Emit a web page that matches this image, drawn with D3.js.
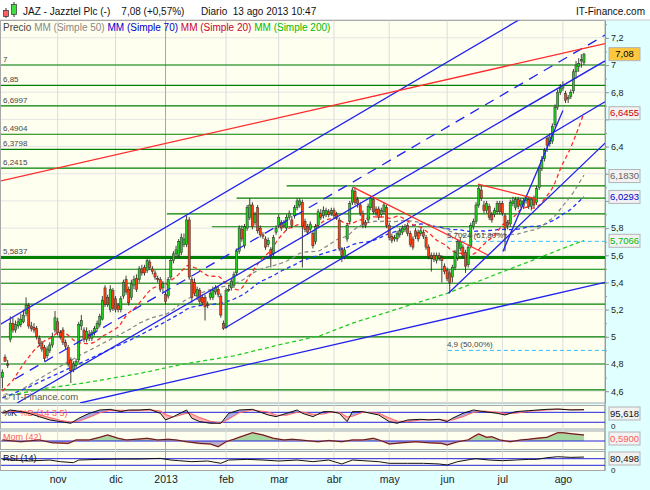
<!DOCTYPE html>
<html>
<head>
<meta charset="utf-8">
<script src="https://cdnjs.cloudflare.com/ajax/libs/d3/7.8.5/d3.min.js"></script>
<style>
  body { margin: 0; background: #e0ffff; }
  text { font-family: "Liberation Sans", Arial, sans-serif; }
</style>
</head>
<body>
<div id="chart"></div>
<script>
// Daily candles, index 0 = early Oct 2012, last = 13 ago 2013
const opens = [
  4.70,4.85,4.80,4.98,5.10,5.05,5.08,5.09,5.11,5.17,
  5.23,5.08,5.07,5.06,4.99,4.95,4.92,4.86,4.90,4.94,
  5.05,5.11,5.03,5.05,4.96,4.92,4.83,4.76,4.79,4.83,
  5.08,5.05,4.98,5.02,4.99,5.03,5.06,5.09,5.13,5.36,
  5.29,5.20,5.34,5.28,5.23,5.20,5.30,5.42,5.35,5.29,
  5.38,5.43,5.42,5.50,5.51,5.49,5.55,5.50,5.47,5.43,
  5.42,5.36,5.31,5.30,5.44,5.56,5.61,5.60,5.62,5.68,
  5.68,5.86,5.42,5.40,5.30,5.34,5.29,5.29,5.24,5.29,
  5.29,5.33,5.35,5.30,5.10,5.07,5.35,5.36,5.38,5.47,
  5.63,5.79,5.67,5.80,5.88,5.97,5.84,5.95,5.80,5.75,
  5.72,5.68,5.64,5.61,5.77,5.82,5.84,5.82,5.80,5.88,
  5.86,5.89,5.95,5.97,5.99,5.85,5.81,5.79,5.76,5.70,
  5.82,5.91,5.89,5.90,5.92,5.91,5.93,5.90,5.86,5.64,
  5.59,5.72,5.85,5.99,6.07,6.01,5.97,5.91,5.84,5.86,
  5.95,6.01,5.94,5.94,5.90,5.92,5.95,5.82,5.74,5.72,
  5.72,5.75,5.77,5.79,5.82,5.76,5.72,5.78,5.77,5.76,
  5.77,5.73,5.66,5.60,5.60,5.56,5.60,5.58,5.52,5.49,
  5.47,5.44,5.51,5.58,5.65,5.66,5.62,5.53,5.67,5.81,
  5.85,5.97,6.08,5.97,5.93,5.96,5.90,5.90,5.92,5.98,
  5.98,5.89,5.84,5.83,5.98,5.95,6.01,5.97,5.96,6.00,
  6.01,5.96,6.02,5.99,6.10,6.24,6.31,6.46,6.42,6.44,
  6.56,6.69,6.80,6.83,6.79,6.75,6.77,6.81,6.95,6.99,
  7.03,7.02
];
const highs = [
  4.76,4.87,4.83,5.15,5.14,5.12,5.14,5.17,5.20,5.29,
  5.25,5.11,5.10,5.08,5.01,4.97,4.94,4.93,4.96,5.03,
  5.19,5.14,5.05,5.07,4.98,4.94,4.85,4.82,4.84,5.11,
  5.16,5.07,5.07,5.05,5.05,5.08,5.12,5.17,5.30,5.38,
  5.31,5.38,5.36,5.30,5.25,5.30,5.42,5.45,5.37,5.42,
  5.45,5.46,5.52,5.53,5.53,5.58,5.57,5.52,5.49,5.45,
  5.44,5.41,5.33,5.44,5.58,5.63,5.67,5.72,5.76,5.76,
  5.89,5.88,5.44,5.43,5.37,5.36,5.31,5.31,5.26,5.34,
  5.37,5.38,5.37,5.32,5.12,5.36,5.38,5.43,5.48,5.65,
  5.82,5.82,5.83,5.97,6.02,5.99,5.92,5.97,5.82,5.77,
  5.74,5.73,5.66,5.75,5.82,5.90,5.86,5.86,5.90,5.93,
  5.89,5.97,6.02,6.02,6.01,5.87,5.83,5.85,5.78,5.83,
  5.94,5.94,5.96,5.95,5.94,5.95,5.95,5.92,5.88,5.66,
  5.66,5.84,6.00,6.10,6.10,6.03,5.99,5.93,5.86,5.98,
  6.04,6.03,5.96,5.96,5.95,5.99,5.97,5.84,5.76,5.75,
  5.78,5.80,5.82,5.83,5.84,5.78,5.74,5.80,5.79,5.80,
  5.79,5.75,5.68,5.62,5.62,5.62,5.62,5.60,5.54,5.51,
  5.49,5.53,5.64,5.72,5.73,5.68,5.64,5.68,5.84,5.87,
  5.99,6.11,6.11,6.00,6.00,5.98,5.92,5.95,6.00,6.00,
  6.00,5.91,5.86,6.01,6.03,6.03,6.03,6.02,6.02,6.04,
  6.03,6.03,6.04,6.11,6.26,6.33,6.39,6.48,6.50,6.57,
  6.71,6.82,6.86,6.88,6.81,6.78,6.82,6.97,7.03,7.05,
  7.08,7.09
];
const lows = [
  4.62,4.82,4.77,4.96,5.03,5.03,5.06,5.07,5.10,5.15,
  5.06,5.04,5.03,4.98,4.93,4.89,4.82,4.84,4.88,4.92,
  5.03,5.01,4.98,4.94,4.91,4.78,4.66,4.74,4.77,4.81,
  5.05,4.96,4.96,4.97,4.97,5.01,5.04,5.07,5.12,5.22,
  5.22,5.18,5.19,5.18,5.18,5.18,5.28,5.31,5.23,5.27,
  5.35,5.33,5.40,5.45,5.45,5.47,5.49,5.46,5.42,5.40,
  5.33,5.33,5.24,5.28,5.42,5.54,5.59,5.58,5.60,5.66,
  5.66,5.42,5.25,5.30,5.27,5.24,5.23,5.12,5.21,5.27,
  5.27,5.31,5.29,5.14,5.05,5.06,5.33,5.34,5.36,5.45,
  5.61,5.70,5.65,5.78,5.86,5.79,5.82,5.76,5.73,5.72,
  5.64,5.66,5.51,5.59,5.75,5.80,5.78,5.80,5.78,5.86,
  5.80,5.87,5.93,5.95,5.51,5.77,5.75,5.77,5.65,5.68,
  5.80,5.86,5.87,5.88,5.88,5.89,5.87,5.86,5.63,5.55,
  5.57,5.70,5.83,5.97,5.97,5.95,5.89,5.80,5.80,5.84,
  5.93,5.90,5.89,5.86,5.88,5.90,5.80,5.71,5.69,5.70,
  5.70,5.73,5.75,5.77,5.74,5.66,5.64,5.72,5.70,5.74,
  5.72,5.64,5.57,5.48,5.55,5.54,5.56,5.40,5.46,5.41,
  5.32,5.40,5.49,5.56,5.63,5.58,5.47,5.51,5.65,5.79,
  5.83,5.95,6.00,5.91,5.91,5.86,5.84,5.88,5.90,5.90,
  5.89,5.63,5.79,5.81,5.96,5.93,5.94,5.95,5.94,5.98,
  5.94,5.93,5.95,5.97,6.08,6.22,6.29,6.36,6.40,6.42,
  6.54,6.67,6.78,6.81,6.72,6.72,6.75,6.79,6.90,6.95,
  6.98,7.00
];
const closes = [
  4.74,4.82,4.79,5.10,5.05,5.09,5.11,5.13,5.16,5.23,
  5.08,5.06,5.05,5.00,4.95,4.91,4.84,4.91,4.94,5.00,
  5.14,5.03,5.00,4.96,4.93,4.80,4.75,4.80,4.82,5.09,
  5.12,4.98,5.04,4.99,5.03,5.06,5.10,5.15,5.27,5.24,
  5.24,5.35,5.21,5.20,5.20,5.28,5.40,5.33,5.25,5.39,
  5.42,5.35,5.50,5.47,5.47,5.56,5.51,5.48,5.44,5.42,
  5.35,5.39,5.26,5.42,5.56,5.61,5.64,5.70,5.73,5.72,
  5.86,5.44,5.29,5.32,5.35,5.26,5.25,5.22,5.23,5.32,
  5.34,5.36,5.31,5.16,5.06,5.34,5.35,5.41,5.46,5.63,
  5.80,5.72,5.81,5.95,5.97,5.81,5.90,5.78,5.75,5.74,
  5.66,5.71,5.60,5.73,5.80,5.88,5.80,5.84,5.88,5.91,
  5.82,5.95,6.00,6.00,5.81,5.79,5.77,5.83,5.67,5.81,
  5.92,5.88,5.93,5.93,5.90,5.93,5.89,5.88,5.65,5.60,
  5.64,5.82,5.98,6.08,5.99,5.98,5.91,5.83,5.82,5.96,
  6.02,5.92,5.91,5.88,5.93,5.97,5.82,5.73,5.71,5.73,
  5.76,5.78,5.80,5.81,5.76,5.68,5.66,5.74,5.72,5.78,
  5.74,5.66,5.59,5.58,5.57,5.60,5.58,5.56,5.48,5.43,
  5.40,5.51,5.62,5.70,5.70,5.60,5.52,5.66,5.82,5.85,
  5.97,6.09,6.02,5.93,5.98,5.88,5.86,5.93,5.98,5.92,
  5.91,5.80,5.82,5.99,6.00,6.01,5.96,6.00,6.00,6.02,
  5.96,6.01,5.97,6.09,6.24,6.30,6.37,6.41,6.47,6.55,
  6.69,6.80,6.83,6.85,6.74,6.76,6.80,6.95,7.00,7.01,
  7.04,7.08
];

// Month ticks (candle index of first session of each month)
const monthIdx = [21, 43, 62, 85, 105, 126, 147, 169, 190, 213];
const monthLabels = ['nov', 'dic', '2013', 'feb', 'mar', 'abr', 'may', 'jun', 'jul', 'ago'];
const priceTicks = [4.6, 4.8, 5, 5.2, 5.4, 5.6, 5.8, 6, 6.2, 6.4, 6.6, 6.8, 7, 7.2];

// Moving averages before enough history is on screen
const sma20Early = [[0, 4.60], [4, 4.68], [8, 4.80], [12, 4.90], [16, 4.97]];
const sma50Early = [[8, 4.62], [20, 4.76], [30, 4.87], [40, 4.97]];
const sma70Early = [[0, 4.55], [10, 4.63], [20, 4.72], [30, 4.81], [40, 4.90], [50, 4.99], [60, 5.09]];
const sma200 = [[3, 4.57], [16, 4.62], [31, 4.66], [52, 4.73], [69, 4.80], [88, 4.86], [105, 4.94],
  [121, 5.01], [133, 5.10], [151, 5.21], [169, 5.32], [189, 5.47], [209, 5.62], [221, 5.71]];

// Support / resistance levels
const labeledLevels = [7, 6.85, 6.6997, 6.4904, 6.3798, 6.2415, 5.5837];
const labeledTexts = ['7', '6,85', '6,6997', '6,4904', '6,3798', '6,2415', '5,5837'];
const plainLevels = [5.497, 5.394, 5.241, 5.0, 4.8, 4.61];
const partialLevels = [6.11, 6.021, 5.904, 5.81];
const partialStart = [108, 89, 62.5, 79.6];
const fibLevels = [5.7024, 4.9];
const fibTexts = ['5,7024 (61,80%)', '4,9 (50,00%)'];
const fibStart = 169.3;

// Trend lines: [[index, price], [index, price]]
const blueLines = [
  [[-0.9, 5.09], [197, 7.34]],
  [[5.6, 4.513], [229, 7.03]],
  [[84.6, 5.065], [229, 6.73]],
  [[29.5, 4.513], [229, 5.40]],
  [[169.5, 5.32], [229, 6.425]],
  [[190.2, 5.628], [213, 6.666]]
];
const blueDashed = [[4.8, 4.69], [229, 7.22]];
const redLines = [
  [[-0.9, 6.146], [229, 7.157]],
  [[133.2, 6.102], [184.5, 5.602]],
  [[180.7, 6.124], [203.1, 6.014]]
];

// Right-side value labels
const boxValues = [7.08, 6.6455, 6.1830, 6.0293, 5.7066];
const boxTexts = ['7,08', '6,6455', '6,1830', '6,0293', '5,7066'];
const boxColors = ['#000000', '#cc0000', '#666666', '#0000cc', '#00bb00'];

// Stochastic %K %D (14 3 5)
const stochIdx = [0,3,7,10,14,18,22,26,29,33, 37,41,45,48,52,56,60,62,65,70,
  72,75,79,83,86,90,95,101,104,108, 112,114,118,122,125,128,131,133,137,143,
  147,150,154,159,162,166,169,171,175,179, 183,188,191,195,200,207,211,216,221];
const stochK = [74,94,84,74,54,34,24,14,44,74, 94,98,84,94,94,98,74,34,54,94,
  44,24,14,14,74,94,98,64,54,74, 94,74,54,84,84,74,24,84,84,64,
  24,14,34,38,34,38,24,44,74,94, 84,74,64,84,90,98,100,94,96];
const stochD = [80,85,88,80,66,48,32,22,26,50, 78,92,92,90,92,95,88,66,52,74,
  70,48,26,16,40,78,94,82,64,62, 80,82,68,70,82,80,52,56,80,74,
  46,28,24,34,36,36,32,34,54,80, 88,80,72,74,86,94,98,97,95];

// Momentum (42)
const momIdx = [0,7,14,19,25,28,33,37,40,44, 47,51,55,59,63,66,70,75,79,82,
  85,88,90,95,99,103,107,110,116,120, 124,129,133,137,141,145,147,152,157,162,
  167,169,173,177,179,181,184,186,189,193, 197,200,203,207,211,213,217,221];
const momVal = [0.10,-0.07,0.10,-0.17,-0.23,0.10,0.10,0.36,0.59,0.26,
  0.10,0.17,0.26,0.10,0.17,0.10,-0.07,-0.23,-0.29,-0.56,
  -0.07,0.17,0.36,0.81,0.59,0.26,0.10,0.17,0.03,-0.07,
  0.05,-0.07,0.10,0.10,0.26,-0.07,-0.29,-0.17,-0.07,-0.17,
  -0.23,-0.39,-0.07,0.10,0.42,0.69,0.36,0.42,0.10,-0.07,
  0.10,0.17,0.26,0.36,0.81,0.81,0.69,0.59];

// RSI (14)
const rsiIdx = [0,4,10,18,22,27,29,37,45,52, 60,64,67,72,78,83,86,93,99,105,
  112,118,124,129,133,137,143,147,154,160, 166,169,173,178,180,185,190,195,200,203,
  207,211,216,221];
const rsiVal = [66,62,56,62,52,46,62,66,68,68, 72,62,58,52,56,42,62,66,62,56,
  62,52,62,38,62,58,52,42,42,42, 38,32,52,66,70,62,58,62,66,66,
  76,82,78,80];

// Layout
const plotW = 605;
const main = { top: 20.5, bottom: 403 };
const stochP = { top: 405.5, bottom: 429 };
const momP = { top: 431, bottom: 449.5 };
const rsiP = { top: 451.5, bottom: 470.5 };

const x = d3.scaleLinear().domain([-0.91, 229]).range([0, plotW]);
const y = d3.scaleLinear().domain([4.513, 7.3275]).range([main.bottom, main.top]);
const sy = d3.scaleLinear().domain([0, 100]).range([425.6, 409]);
const my = d3.scaleLinear().domain([-1, 1]).range([451.2, 430.8]);
const ry = d3.scaleLinear().domain([0, 100]).range([470.25, 453.75]);

const fmtComma = d => String(+d.toFixed(1)).replace('.', ',');
// tick labels that sit under a value box are hidden, as in the original
const tickLabel = d => boxValues.some(v => Math.abs(y(v) - y(d)) < 9) ? '' : fmtComma(d);

const svg = d3.select('#chart').append('svg')
    .attr('width', 650).attr('height', 490).style('display', 'block');
const defs = svg.append('defs');

svg.append('rect').attr('width', 650).attr('height', 490).attr('fill', '#e0ffff');
svg.append('rect').attr('width', 650).attr('height', 20).attr('fill', '#ffffff');
svg.append('line').attr('x1', 0).attr('x2', 650).attr('y1', 20).attr('y2', 20)
    .attr('stroke', '#c8c8c8');

// Panel backgrounds and clip paths
[['main', main], ['stoch', stochP], ['mom', momP], ['rsi', rsiP]].forEach(([id, p]) => {
    svg.append('rect')
        .attr('x', 0.5).attr('y', p.top).attr('width', plotW - 0.5).attr('height', p.bottom - p.top)
        .attr('fill', '#fffff0').attr('stroke', '#a8a8a8');
    defs.append('clipPath').attr('id', 'clip-' + id)
        .append('rect').attr('x', 1).attr('y', p.top).attr('width', plotW - 1).attr('height', p.bottom - p.top);
});

// Grid
const grid = svg.append('g');
grid.selectAll('.hgrid').data(priceTicks).enter().append('line')
    .attr('x1', 1).attr('x2', plotW).attr('y1', d => y(d)).attr('y2', d => y(d))
    .attr('stroke', '#e4e4e4');
grid.selectAll('.vgrid').data(monthIdx).enter().append('line')
    .attr('x1', d => x(d)).attr('x2', d => x(d)).attr('y1', main.top).attr('y2', rsiP.bottom)
    .attr('stroke', (d, i) => monthLabels[i] === '2013' ? '#a8a8a8' : '#dcdcdc');

// Main panel
const g = svg.append('g').attr('clip-path', 'url(#clip-main)');
const seg = d3.line().x(d => x(d[0])).y(d => y(d[1]));

g.selectAll('.lvl').data(labeledLevels.concat(plainLevels)).enter().append('line')
    .attr('x1', 0).attr('x2', plotW).attr('y1', d => y(d)).attr('y2', d => y(d))
    .attr('stroke', '#008000').attr('stroke-width', d => d === 5.5837 ? 3 : 1.2);
g.selectAll('.plvl').data(partialLevels).enter().append('line')
    .attr('x1', (d, i) => x(partialStart[i])).attr('x2', plotW)
    .attr('y1', d => y(d)).attr('y2', d => y(d))
    .attr('stroke', '#008000').attr('stroke-width', 1.2);
g.selectAll('.fib').data(fibLevels).enter().append('line')
    .attr('x1', x(fibStart)).attr('x2', plotW).attr('y1', d => y(d)).attr('y2', d => y(d))
    .attr('stroke', '#33bbff').attr('stroke-dasharray', '4,3');

// Moving averages
function simpleMA(n, early) {
    const pts = early.slice();
    for (let i = n - 1; i < closes.length; i++) {
        pts.push([i, d3.mean(closes.slice(i - n + 1, i + 1))]);
    }
    return pts;
}
const maSeries = [
    { pts: sma200, color: '#22cc22' },
    { pts: simpleMA(70, sma70Early), color: '#2233ff' },
    { pts: simpleMA(50, sma50Early), color: '#8c8c8c' },
    { pts: simpleMA(20, sma20Early), color: '#ff2a2a' }
];
maSeries.forEach(s => {
    g.append('path').attr('d', seg(s.pts)).attr('fill', 'none')
        .attr('stroke', s.color).attr('stroke-width', 1.3).attr('stroke-dasharray', '4,3');
});

// Candles
const candles = closes.map((c, i) => ({ i, o: opens[i], h: highs[i], l: lows[i], c }));
const cg = g.append('g');
cg.selectAll('.wick').data(candles).enter().append('line')
    .attr('x1', d => x(d.i)).attr('x2', d => x(d.i))
    .attr('y1', d => y(d.h)).attr('y2', d => y(d.l))
    .attr('stroke', '#2a2a2a').attr('stroke-width', 0.9);
cg.selectAll('.body').data(candles).enter().append('rect')
    .attr('x', d => x(d.i) - 1.1).attr('width', 2.2)
    .attr('y', d => y(Math.max(d.o, d.c)))
    .attr('height', d => Math.max(1, Math.abs(y(d.o) - y(d.c))))
    .attr('fill', d => d.c >= d.o ? '#22cc22' : '#ff4010')
    .attr('stroke', '#2a2a2a').attr('stroke-width', 0.5);

// Trend lines
blueLines.forEach(l => g.append('path').attr('d', seg(l)).attr('stroke', '#2222ee')
    .attr('stroke-width', 1.3).attr('fill', 'none'));
g.append('path').attr('d', seg(blueDashed)).attr('stroke', '#2222ee').attr('stroke-width', 1.3)
    .attr('stroke-dasharray', '10,7').attr('fill', 'none');
redLines.forEach(l => g.append('path').attr('d', seg(l)).attr('stroke', '#ff2a2a')
    .attr('stroke-width', 1.3).attr('fill', 'none'));

// Level labels
g.selectAll('.lvlText').data(labeledLevels).enter().append('text')
    .attr('x', 3).attr('y', d => y(d) - 3)
    .attr('font-size', 8).attr('fill', '#444').text((d, i) => labeledTexts[i]);
g.selectAll('.fibText').data(fibLevels).enter().append('text')
    .attr('x', x(fibStart) - 1).attr('y', d => y(d) - 3)
    .attr('font-size', 8).attr('fill', '#444').text((d, i) => fibTexts[i]);
svg.append('text').attr('x', 3).attr('y', 400).attr('font-size', 9.5).attr('fill', '#555')
    .text('\u00a9 IT-Finance.com');

// Legend row
const legend = svg.append('text').attr('x', 3).attr('y', 30.5).attr('font-size', 10);
[['Precio ', '#444'], ['MM (Simple 50) ', '#888'], ['MM (Simple 70) ', '#0000cc'],
 ['MM (Simple 20) ', '#cc0033'], ['MM (Simple 200)', '#00bb00']]
    .forEach(([t, c]) => legend.append('tspan').attr('fill', c).text(t));

// Title bar
const icon = svg.append('g');
icon.append('line').attr('x1', 6).attr('x2', 6).attr('y1', 8).attr('y2', 18).attr('stroke', '#333');
icon.append('rect').attr('x', 3.5).attr('y', 10.5).attr('width', 5).attr('height', 6)
    .attr('fill', '#ff6060').attr('stroke', '#333').attr('stroke-width', 0.7);
icon.append('line').attr('x1', 14).attr('x2', 14).attr('y1', 2).attr('y2', 17).attr('stroke', '#333');
icon.append('rect').attr('x', 11.5).attr('y', 4.5).attr('width', 5).attr('height', 10)
    .attr('fill', '#40e040').attr('stroke', '#333').attr('stroke-width', 0.7);
svg.append('text').attr('x', 23).attr('y', 14.5).attr('font-size', 10).attr('fill', '#111')
    .attr('xml:space', 'preserve')
    .text('JAZ - Jazztel Plc (-)    7,08 (+0,57%)      Diario  13 ago 2013 10:47');
svg.append('text').attr('x', 645).attr('y', 14.5).attr('font-size', 10).attr('fill', '#111')
    .attr('text-anchor', 'end').text('IT-Finance.com');

// Price axis
const yAxis = d3.axisRight(y).tickValues(priceTicks).tickSize(4).tickSizeOuter(0).tickFormat(tickLabel);
const gy = svg.append('g').attr('transform', `translate(${plotW},0)`).call(yAxis);
gy.select('.domain').attr('stroke', '#999');
gy.selectAll('.tick line').attr('stroke', '#999');
gy.selectAll('text').attr('font-size', 9).attr('fill', '#222').attr('x', 6);
const minorTicks = d3.range(46, 74).map(d => d / 10);
const gyMinor = svg.append('g').attr('transform', `translate(${plotW},0)`)
    .call(d3.axisRight(y).tickValues(minorTicks).tickSize(2).tickSizeOuter(0).tickFormat(''));
gyMinor.select('.domain').remove();
gyMinor.selectAll('.tick line').attr('stroke', '#999');
svg.append('line').attr('x1', plotW).attr('x2', plotW).attr('y1', main.bottom).attr('y2', rsiP.bottom)
    .attr('stroke', '#999');

function valueBox(cy, text, color, bg) {
    svg.append('rect').attr('x', 609).attr('y', cy - 6.5).attr('width', 31).attr('height', 13)
        .attr('fill', bg).attr('stroke', '#b4b4b4');
    svg.append('text').attr('x', 624.5).attr('y', cy + 3.3).attr('text-anchor', 'middle')
        .attr('font-size', 9.5).attr('fill', color).text(text);
}
boxValues.forEach((v, i) => valueBox(y(v), boxTexts[i], boxColors[i], i === 0 ? '#ffc83c' : '#f2f2f2'));

// Stochastic panel
const gs = svg.append('g').attr('clip-path', 'url(#clip-stoch)');
const stochPts = stochIdx.map((i, j) => ({ i, k: stochK[j], d: stochD[j] }));
defs.append('clipPath').attr('id', 'above-k').append('path')
    .attr('d', d3.area().x(d => x(d.i)).y0(stochP.top).y1(d => sy(d.k))(stochPts));
defs.append('clipPath').attr('id', 'below-k').append('path')
    .attr('d', d3.area().x(d => x(d.i)).y0(stochP.bottom).y1(d => sy(d.k))(stochPts));
const between = d3.area().x(d => x(d.i)).y0(d => sy(d.k)).y1(d => sy(d.d));
gs.append('g').attr('clip-path', 'url(#above-k)').append('path')
    .attr('d', between(stochPts)).attr('fill', '#ffb4b4');
gs.append('g').attr('clip-path', 'url(#below-k)').append('path')
    .attr('d', between(stochPts)).attr('fill', '#a8aae2');
[20, 80].forEach(v => gs.append('line').attr('x1', 0).attr('x2', plotW)
    .attr('y1', sy(v)).attr('y2', sy(v)).attr('stroke', '#2222dd'));
const st = gs.append('text').attr('x', 3).attr('y', 416).attr('font-size', 9);
st.append('tspan').attr('fill', '#111').text('%K ');
st.append('tspan').attr('fill', '#ff5a5a').text('%D (14 3 5)');
gs.append('path').attr('d', d3.line().x(d => x(d.i)).y(d => sy(d.d))(stochPts))
    .attr('fill', 'none').attr('stroke', '#ff6a6a').attr('stroke-width', 1.1);
gs.append('path').attr('d', d3.line().x(d => x(d.i)).y(d => sy(d.k))(stochPts))
    .attr('fill', 'none').attr('stroke', '#111').attr('stroke-width', 1);

// Momentum panel
const gm = svg.append('g').attr('clip-path', 'url(#clip-mom)');
const momPts = momIdx.map((i, j) => ({ i, v: momVal[j] }));
defs.append('clipPath').attr('id', 'mom-pos').append('rect')
    .attr('x', 0).attr('y', momP.top).attr('width', plotW).attr('height', my(0) - momP.top);
defs.append('clipPath').attr('id', 'mom-neg').append('rect')
    .attr('x', 0).attr('y', my(0)).attr('width', plotW).attr('height', momP.bottom - my(0));
const momArea = d3.area().x(d => x(d.i)).y0(my(0)).y1(d => my(d.v));
gm.append('g').attr('clip-path', 'url(#mom-pos)').append('path')
    .attr('d', momArea(momPts)).attr('fill', '#a6d8a0');
gm.append('g').attr('clip-path', 'url(#mom-neg)').append('path')
    .attr('d', momArea(momPts)).attr('fill', '#b4aed0');
gm.append('line').attr('x1', 0).attr('x2', plotW).attr('y1', my(0)).attr('y2', my(0))
    .attr('stroke', '#2222dd');
gm.append('text').attr('x', 3).attr('y', 440).attr('font-size', 9).attr('fill', '#ff5a5a')
    .text('Mom (42)');
const momLine = d3.line().x(d => x(d.i)).y(d => my(d.v));
gm.append('path').attr('d', momLine(momPts)).attr('fill', 'none')
    .attr('stroke', '#ff6a6a').attr('stroke-width', 1.6);
gm.append('path').attr('d', momLine(momPts)).attr('fill', 'none')
    .attr('stroke', '#111').attr('stroke-width', 0.8);

// RSI panel
const gr = svg.append('g').attr('clip-path', 'url(#clip-rsi)');
const rsiPts = rsiIdx.map((i, j) => ({ i, v: rsiVal[j] }));
[30, 70].forEach(v => gr.append('line').attr('x1', 0).attr('x2', plotW)
    .attr('y1', ry(v)).attr('y2', ry(v)).attr('stroke', '#2222dd'));
gr.append('text').attr('x', 3).attr('y', 461).attr('font-size', 9).attr('fill', '#111')
    .text('RSI (14)');
gr.append('path').attr('d', d3.line().x(d => x(d.i)).y(d => ry(d.v))(rsiPts))
    .attr('fill', 'none').attr('stroke', '#111').attr('stroke-width', 1);

// Indicator axis labels and boxes
svg.append('text').attr('x', 611).attr('y', 428.5).attr('font-size', 8).attr('fill', '#222').text('0');
svg.append('text').attr('x', 611).attr('y', 472.5).attr('font-size', 8).attr('fill', '#222').text('0');
valueBox(413.5, '95,618', '#111', '#f2f2f2');
valueBox(438.5, '0,5900', '#ff5a5a', '#f2f2f2');
valueBox(458.5, '80,498', '#111', '#f2f2f2');

// Date axis
const xAxis = d3.axisBottom(x).tickValues(monthIdx).tickSize(0)
    .tickFormat((d, i) => monthLabels[i]);
const gx = svg.append('g').attr('transform', `translate(0,${rsiP.bottom + 2})`).call(xAxis);
gx.select('.domain').remove();
gx.selectAll('text').attr('font-size', 10.5).attr('fill', '#222');
</script>
</body>
</html>
